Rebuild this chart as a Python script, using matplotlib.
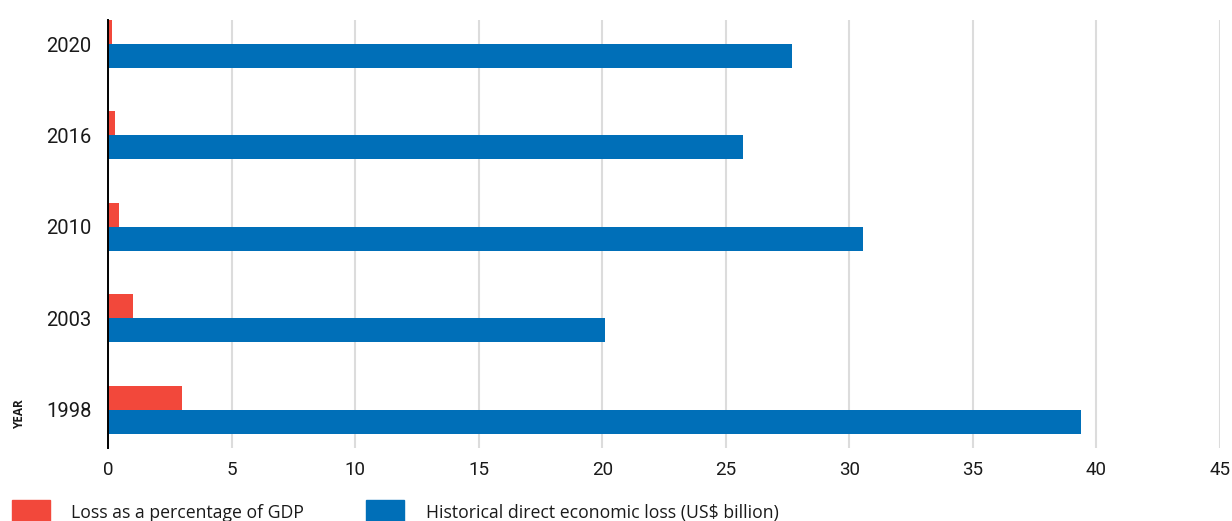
import matplotlib
matplotlib.use("Agg")
import matplotlib.pyplot as plt
from matplotlib.patches import Rectangle
import numpy as np

years = ["1998", "2003", "2010", "2016", "2020"]
loss_pct_gdp = [3.0, 1.0, 0.43, 0.28, 0.15]
loss_usd_bn = [39.4, 20.1, 30.55, 25.7, 27.7]
x_ticks = [0, 5, 10, 15, 20, 25, 30, 35, 40, 45]

red = "#F2483B"
blue = "#006FB8"

plt.rcParams["font.family"] = ["Roboto", "DejaVu Sans"]

fig = plt.figure(figsize=(12.32, 5.21), dpi=100)
ax = fig.add_axes([0.0879, 0.140, 0.9021, 0.8216])

y = np.arange(len(years))
h = 0.263
ax.barh(y + h / 2, loss_pct_gdp, height=h, color=red, zorder=3)
ax.barh(y - h / 2, loss_usd_bn, height=h, color=blue, zorder=3)

ax.set_xlim(0, 45)
ax.set_ylim(-0.42, 4.263)
ax.set_xticks(x_ticks)
ax.set_xticklabels([str(t) for t in x_ticks])
ax.set_yticks(y)
ax.set_yticklabels(years)

ax.grid(axis="x", color="#DCDCDC", linewidth=1.5, zorder=0)
for s in ["top", "right", "bottom"]:
    ax.spines[s].set_visible(False)
ax.spines["left"].set_color("black")
ax.spines["left"].set_linewidth(1.4)
ax.spines["left"].set_zorder(4)

ax.tick_params(axis="both", length=0, labelsize=13.5, colors="#1a1a1a")
ax.tick_params(axis="x", pad=9)
ax.tick_params(axis="y", pad=12, labelsize=14.5)

fig.text(0.0158, 1 - 414.5 / 521, "YEAR", rotation=90, fontsize=8.5,
         fontweight="bold", ha="center", va="center", color="#1a1a1a",
         family=["Open Sans", "DejaVu Sans"])

# legend
W, H = 1232, 521
legend_items = [(red, "Loss as a percentage of GDP", 12, 71),
                (blue, "Historical direct economic loss (US$ billion)", 366, 426)]
for color, label, px, tx in legend_items:
    fig.patches.append(Rectangle((px / W, 0), 38 / W, 21 / H,
                                 transform=fig.transFigure, color=color))
    fig.text(tx / W, 1 - 513 / H, label, fontsize=12.7, ha="left", va="center",
             color="#1a1a1a", family=["Open Sans", "DejaVu Sans"])

fig.savefig("out.png", dpi=100)
